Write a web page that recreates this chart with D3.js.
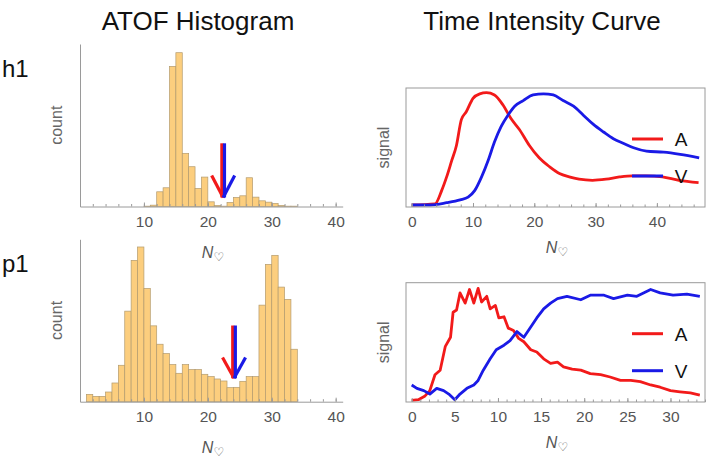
<!DOCTYPE html>
<html>
<head>
<meta charset="utf-8">
<script src="https://cdn.jsdelivr.net/npm/d3@7"></script>
<style>
  body { margin: 0; background: #fff; }
  text { font-family: "Liberation Sans", Arial, sans-serif; }
</style>
</head>
<body>
<svg id="chart"></svg>
<script>
// ---- data ----
const h1FirstBin = 10;
const h1Counts = [1, 4, 44, 56, 419, 460, 159, 119, 54, 88, 14, 3, 1, 12, 27, 32, 86, 28, 17, 13, 9, 3, 1, 1];
const p1FirstBin = 1;
const p1Counts = [22, 16, 16, 29, 56, 109, 271, 423, 463, 339, 227, 172, 144, 111, 85, 111, 96, 96,
  82, 75, 68, 62, 42, 43, 61, 75, 75, 289, 411, 438, 343, 306, 157];

// arrows: position on N axis, shaft top, tip, wing start (in counts), wing half width (in N)
const h1Arrow = { x: 22.4, top: 189, tip: 27, wing: 93, dx: 1.8 };
const p1Arrow = { x: 24.1, top: 228, tip: 70, wing: 132, dx: 1.8 };

const h1CurveA = [[0, 0], [3.8, 0.01], [4.9, 0.13], [5.7, 0.25], [6.5, 0.39], [7.3, 0.53], [8.1, 0.76],
  [8.9, 0.83], [10, 0.95], [11.1, 0.99], [12.2, 1], [13.5, 0.98], [14.9, 0.89], [16.2, 0.77], [17.6, 0.67],
  [19.2, 0.53], [20.8, 0.42], [22.5, 0.34], [24.1, 0.28], [25.7, 0.25], [27.3, 0.23], [29.5, 0.22],
  [31.7, 0.23], [33.9, 0.25], [36, 0.26], [38.2, 0.26], [40.9, 0.25], [43.6, 0.22], [46.8, 0.2]];
const h1CurveV = [[0, 0], [3, 0], [5.7, 0.02], [7.9, 0.045], [9.2, 0.07], [10.3, 0.13], [11.4, 0.25],
  [12.5, 0.4], [13.5, 0.56], [14.6, 0.7], [15.7, 0.8], [16.8, 0.88], [18.2, 0.93], [19.8, 0.98], [21.5, 0.99],
  [23.1, 0.98], [24.7, 0.93], [26.4, 0.88], [28, 0.8], [29.6, 0.72], [31.3, 0.65], [32.9, 0.59], [34.5, 0.55],
  [36.2, 0.51], [38.3, 0.48], [41.1, 0.47], [43.8, 0.45], [46.9, 0.42]];

const p1CurveA = [[0, 0.015], [0.77, 0.02], [1.5, 0.05], [2.1, 0.1], [2.7, 0.24], [3.3, 0.28], [3.9, 0.49],
  [4.5, 0.57], [4.8, 0.79], [5.2, 0.81], [5.6, 0.96], [6.2, 0.87], [6.7, 0.99], [7.2, 0.87], [7.7, 1],
  [8.1, 0.88], [8.7, 0.93], [9.1, 0.82], [9.7, 0.85], [10.1, 0.74], [10.7, 0.75], [11.2, 0.65], [11.8, 0.63],
  [12.4, 0.56], [13, 0.53], [13.8, 0.46], [14.5, 0.44], [15.3, 0.38], [16.1, 0.34], [16.9, 0.35], [17.6, 0.31],
  [18.6, 0.29], [19.6, 0.28], [20.7, 0.25], [21.9, 0.24], [23, 0.22], [24.2, 0.19], [25.4, 0.19], [26.5, 0.18],
  [27.7, 0.15], [28.8, 0.13], [30, 0.1], [31.1, 0.09], [32.3, 0.08], [33.4, 0.06]];
const p1CurveV = [[0, 0.15], [0.6, 0.12], [1.4, 0.1], [2.1, 0.07], [2.9, 0.12], [3.7, 0.1], [4.3, 0.07],
  [5, 0.02], [5.6, 0.07], [6.4, 0.12], [7.2, 0.15], [7.7, 0.19], [8.3, 0.28], [9.1, 0.38], [9.8, 0.46],
  [10.7, 0.5], [11.4, 0.54], [12.2, 0.62], [13, 0.57], [13.8, 0.66], [14.5, 0.74], [15.3, 0.82], [16.1, 0.87],
  [16.9, 0.91], [18, 0.93], [19.6, 0.9], [20.7, 0.94], [22.3, 0.94], [23.4, 0.91], [25, 0.94], [26.1, 0.93],
  [27.7, 0.99], [28.8, 0.96], [30.3, 0.94], [31.9, 0.95], [33.4, 0.93]];

const titles = ["ATOF Histogram", "Time Intensity Curve"];
const rowLabels = ["h1", "p1"];
const legendKeys = ["A", "V"];

// ---- layout ----
const WIDTH = 708;
const HEIGHT = 461;
const HIST_LEFT = 80;
const HIST_RIGHT = 342.7;
const TIC_LEFT = 406;
const TIC_RIGHT = 705;

const BAR_FILL = "#fcce7e";
const BAR_EDGE = "#b39b6e";
const AXIS_COLOR = "#9a9a9a";
const LABEL_COLOR = "#555";
const RED = "#f21a1a";
const BLUE = "#1a1ae6";

const svg = d3.select("#chart")
  .attr("width", WIDTH)
  .attr("height", HEIGHT)
  .style("background-color", "white");

// titles
svg.append("text").attr("x", 198).attr("y", 30).attr("text-anchor", "middle")
  .attr("font-size", 26).attr("fill", "#111").text(titles[0]);
svg.append("text").attr("x", 542).attr("y", 30).attr("text-anchor", "middle")
  .attr("font-size", 26).attr("fill", "#111").text(titles[1]);

function nLabel(x, y) {
  const t = svg.append("text").attr("x", x).attr("y", y).attr("text-anchor", "middle")
    .attr("fill", LABEL_COLOR);
  t.append("tspan").attr("font-size", 16).attr("font-style", "italic").text("N");
  t.append("tspan").attr("font-size", 12).attr("dy", 3).attr("font-family", "DejaVu Sans").text("\u2661");
}

function styleAxis(g) {
  g.select(".domain").attr("stroke", AXIS_COLOR).attr("stroke-width", 1);
  g.selectAll(".tick line").attr("stroke", AXIS_COLOR);
  g.selectAll(".tick text").attr("fill", LABEL_COLOR).attr("font-size", 15.5)
    .attr("font-family", "Liberation Sans, Arial, sans-serif");
}

function drawHistogram(counts, firstBin, arrow, top, bottom, label) {
  const x = d3.scaleLinear().domain([0, 41.1]).range([HIST_LEFT, HIST_RIGHT]);
  const y = d3.scaleLinear().domain([0, 486]).range([bottom, top]);
  const g = svg.append("g");

  g.selectAll(".bar")
    .data(counts)
    .join("rect")
    .classed("bar", true)
    .attr("x", (d, i) => x(firstBin + i))
    .attr("width", x(1) - x(0))
    .attr("y", (d) => y(d))
    .attr("height", (d) => y(0) - y(d))
    .attr("fill", BAR_FILL)
    .attr("stroke", BAR_EDGE)
    .attr("stroke-width", 0.7);

  // minor ticks every 2
  const minor = g.append("g").attr("transform", `translate(0, ${bottom})`)
    .call(d3.axisBottom(x).tickValues(d3.range(2, 41, 2)).tickSizeInner(-2.5).tickSizeOuter(0).tickFormat(""));
  styleAxis(minor);
  const major = g.append("g").attr("transform", `translate(0, ${bottom})`)
    .call(d3.axisBottom(x).tickValues([10, 20, 30, 40]).tickSizeInner(-4).tickSizeOuter(0).tickPadding(9));
  styleAxis(major);
  major.select(".domain").remove();

  const yAxis = g.append("g").attr("transform", `translate(${HIST_LEFT}, 0)`)
    .call(d3.axisLeft(y).tickValues([]).tickSizeOuter(0));
  styleAxis(yAxis);

  // arrows
  const drawArrow = (sign, color) => {
    const off = sign * 1.3;
    g.append("line")
      .attr("x1", x(arrow.x) + off).attr("x2", x(arrow.x) + off)
      .attr("y1", y(arrow.top)).attr("y2", y(arrow.tip))
      .attr("stroke", color).attr("stroke-width", 3.2);
    g.append("line")
      .attr("x1", x(arrow.x + sign * arrow.dx)).attr("y1", y(arrow.wing))
      .attr("x2", x(arrow.x)).attr("y2", y(arrow.tip))
      .attr("stroke", color).attr("stroke-width", 3.2);
  };
  drawArrow(-1, RED);
  drawArrow(1, BLUE);

  svg.append("text")
    .attr("transform", `translate(62, ${(top + bottom) / 2}) rotate(-90)`)
    .attr("text-anchor", "middle").attr("font-size", 16).attr("fill", "#666").text("count");
  svg.append("text").attr("x", 2).attr("y", top + 33).attr("font-size", 24).attr("fill", "#111").text(label);
  nLabel(213, bottom + 51);
}

function drawCurves(curveA, curveV, curveType, xDomain, yDomain, majorTicks, minorStep, top, bottom) {
  const x = d3.scaleLinear().domain(xDomain).range([TIC_LEFT, TIC_RIGHT]);
  const y = d3.scaleLinear().domain(yDomain).range([bottom, top]);
  const g = svg.append("g");

  const line = d3.line().curve(curveType).x((d) => x(d[0])).y((d) => y(d[1]));
  [[curveA, RED], [curveV, BLUE]].forEach(([data, color]) => {
    g.append("path").datum(data)
      .attr("d", line)
      .attr("fill", "none")
      .attr("stroke", color)
      .attr("stroke-width", 2.8)
      .attr("stroke-linejoin", "round");
  });

  const maxTick = Math.floor(xDomain[1]);
  const minor = g.append("g").attr("transform", `translate(0, ${bottom})`)
    .call(d3.axisBottom(x).tickValues(d3.range(0, maxTick + 0.01, minorStep)).tickSizeInner(-2.5)
      .tickSizeOuter(0).tickFormat(""));
  styleAxis(minor);
  minor.select(".domain").remove();
  const major = g.append("g").attr("transform", `translate(0, ${bottom})`)
    .call(d3.axisBottom(x).tickValues(majorTicks).tickSizeInner(-4).tickSizeOuter(0).tickPadding(9));
  styleAxis(major);
  major.select(".domain").remove();

  g.append("rect")
    .attr("x", TIC_LEFT).attr("y", top)
    .attr("width", TIC_RIGHT - TIC_LEFT).attr("height", bottom - top)
    .attr("fill", "none").attr("stroke", AXIS_COLOR).attr("stroke-width", 1);

  // legend
  legendKeys.forEach((k, i) => {
    const ly = top + 51 + i * 37;
    g.append("line").attr("x1", TIC_LEFT + 226).attr("x2", TIC_LEFT + 257)
      .attr("y1", ly).attr("y2", ly)
      .attr("stroke", i === 0 ? RED : BLUE).attr("stroke-width", 3);
    g.append("text").attr("x", TIC_LEFT + 275).attr("y", ly + 7).attr("text-anchor", "middle")
      .attr("font-size", 19).attr("fill", "#111").text(k);
  });

  svg.append("text")
    .attr("transform", `translate(389, ${(top + bottom) / 2}) rotate(-90)`)
    .attr("text-anchor", "middle").attr("font-size", 16).attr("fill", "#666").text("signal");
  nLabel(557, bottom + 46);
}

drawHistogram(h1Counts, h1FirstBin, h1Arrow, 44, 206.5, rowLabels[0]);
drawHistogram(p1Counts, p1FirstBin, p1Arrow, 239.3, 401.7, rowLabels[1]);

drawCurves(h1CurveA, h1CurveV, d3.curveMonotoneX, [-0.93, 47.85], [-0.018, 1.042],
  [0, 10, 20, 30, 40], 2, 88, 207);
drawCurves(p1CurveA, p1CurveV, d3.curveLinear, [-0.66, 34.0], [0, 1.05],
  [0, 5, 10, 15, 20, 25, 30], 1, 282.7, 402);
</script>
</body>
</html>
